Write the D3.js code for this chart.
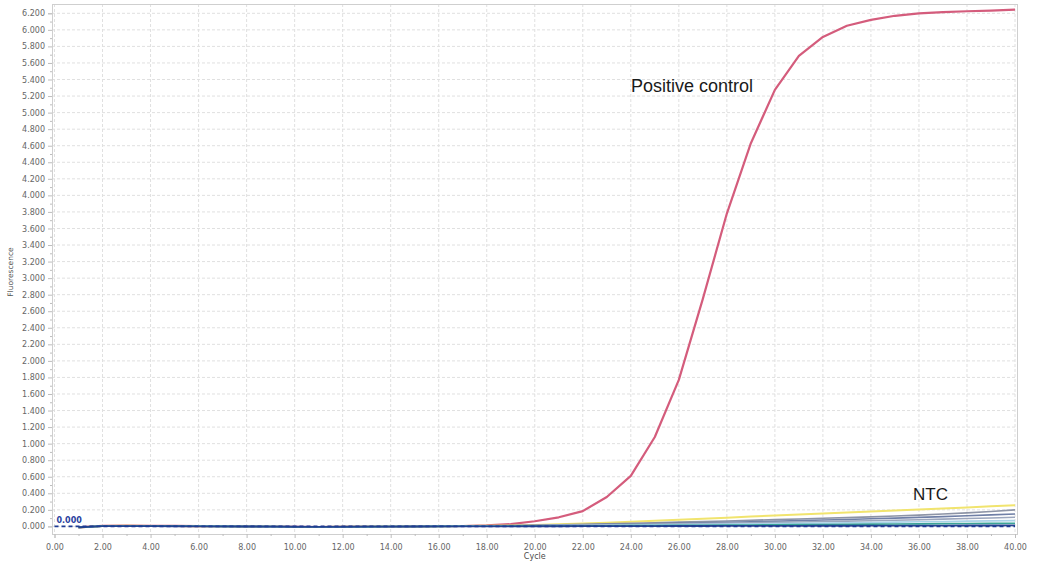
<!DOCTYPE html>
<html>
<head>
<meta charset="utf-8">
<title>Amplification plot</title>
<script src="https://cdn.jsdelivr.net/npm/d3@7"></script>
<style>
  html, body { margin: 0; padding: 0; background: #fff; }
  svg { display: block; }
</style>
</head>
<body>
<svg id="chart" width="1038" height="565"></svg>
<script>
// Amplification cycles (readings start at cycle 1)
const cycles = d3.range(1, 41);

// Fluorescence readings per well
const positiveControl = [-12, 8, 10, 8, 6, 4, 2, 0, -3, -6, -7, -5, -3, -1, 0, 2, 5, 12, 28, 62,
  110, 185, 355, 610, 1080, 1770, 2750, 3780, 4630, 5275, 5685, 5915, 6050, 6120, 6170, 6200, 6215, 6225, 6232, 6244];
const ntcYellow = [-14, 6, 8, 6, 5, 3, 1, 0, -3, -6, -7, -5, -3, -1, 0, 2, 4, 8, 12, 18,
  26, 34, 44, 55, 68, 81, 93, 106, 119, 131, 143, 155, 167, 179, 192, 204, 216, 229, 242, 255];
const ntcGrey = [-15, 6, 8, 6, 4, 2, 1, -1, -3, -6, -8, -6, -4, -2, -1, 1, 3, 6, 10, 14,
  19, 25, 31, 38, 45, 52, 59, 66, 74, 82, 90, 98, 106, 115, 125, 136, 149, 163, 180, 200];
const ntcSlate = [-13, 5, 7, 5, 4, 2, 0, -1, -3, -5, -7, -6, -4, -2, -1, 1, 2, 5, 8, 11,
  15, 19, 24, 29, 34, 39, 45, 51, 57, 63, 70, 77, 84, 92, 100, 109, 118, 128, 139, 150];
const ntcSteel = [-12, 4, 6, 5, 3, 2, 0, -1, -3, -5, -6, -5, -4, -2, -1, 0, 2, 4, 6, 9,
  12, 15, 19, 23, 27, 31, 35, 39, 44, 49, 54, 59, 64, 69, 75, 81, 88, 95, 102, 110];
const ntcSky = [-12, 4, 6, 4, 3, 1, 0, -1, -3, -5, -6, -5, -3, -2, -1, 0, 1, 3, 5, 7,
  9, 11, 13, 16, 19, 22, 25, 28, 31, 34, 37, 40, 44, 48, 52, 56, 60, 64, 67, 70];
const ntcTeal = [-11, 3, 5, 4, 3, 1, 0, -1, -2, -4, -5, -4, -3, -2, -1, 0, 1, 2, 3, 4,
  5, 6, 8, 9, 11, 12, 14, 15, 17, 19, 21, 23, 25, 27, 29, 31, 33, 35, 37, 38];
const ntcNavy = [-10, 3, 4, 3, 2, 1, 0, -1, -2, -4, -5, -4, -3, -2, -1, 0, 0, 1, 1, 2,
  2, 3, 3, 4, 4, 5, 5, 6, 6, 7, 7, 8, 8, 9, 9, 10, 10, 11, 11, 12];

// Threshold level
const threshold = 0;
const thresholdLabel = "0.000";

// Axis ticks
const xTicks = d3.range(0, 41, 2);
const xMinorTicks = d3.range(1, 40, 2);
const yTicks = d3.range(0, 6201, 200);
const yMinorTicks = d3.range(100, 6200, 200);

const svg = d3.select("#chart");

const frame = { left: 52, right: 1017, top: 4, bottom: 534 };
const x = d3.scaleLinear().domain([0, 40]).range([54.5, 1015]);
const y = d3.scaleLinear().domain([0, 6200]).range([526.4, 13.3]);

const fmtX = d3.format(".2f");
const fmtY = v => Math.floor(v / 1000) + "." + String(v % 1000).padStart(3, "0");

// grid
const grid = svg.append("g");
grid.selectAll("line.h").data(yTicks).join("line")
  .attr("x1", frame.left).attr("x2", frame.right)
  .attr("y1", d => y(d)).attr("y2", d => y(d))
  .attr("stroke", "#e0e0e0").attr("stroke-width", 1).attr("stroke-dasharray", "3,2");
grid.selectAll("line.v").data(xTicks).join("line")
  .attr("x1", d => x(d)).attr("x2", d => x(d))
  .attr("y1", frame.top).attr("y2", frame.bottom)
  .attr("stroke", "#e0e0e0").attr("stroke-width", 1).attr("stroke-dasharray", "3,2");

// frame
svg.append("rect")
  .attr("x", frame.left + 0.5).attr("y", frame.top + 0.5)
  .attr("width", frame.right - frame.left).attr("height", frame.bottom - frame.top)
  .attr("fill", "none").attr("stroke", "#cfcfcf");

// y axis
svg.append("g").attr("transform", `translate(${frame.left},0)`)
  .call(d3.axisLeft(y).tickValues(yTicks).tickFormat(fmtY).tickSize(4).tickPadding(3));
svg.append("g").attr("transform", `translate(${frame.left},0)`)
  .call(d3.axisLeft(y).tickValues(yMinorTicks).tickFormat("").tickSize(2))
  .call(g => g.select(".domain").remove());

// x axis
svg.append("g").attr("transform", `translate(0,${frame.bottom})`)
  .call(d3.axisBottom(x).tickValues(xTicks).tickFormat(fmtX).tickSize(4).tickPadding(6));
svg.append("g").attr("transform", `translate(0,${frame.bottom})`)
  .call(d3.axisBottom(x).tickValues(xMinorTicks).tickFormat("").tickSize(2))
  .call(g => g.select(".domain").remove());

svg.selectAll(".domain").attr("stroke", "#cfcfcf");
svg.selectAll(".tick line").attr("stroke", "#bdbdbd");
svg.selectAll(".tick text")
  .attr("font-family", "DejaVu Sans, Verdana, sans-serif")
  .attr("font-size", 8).attr("fill", "#666");

// axis titles
svg.append("text")
  .attr("x", x(20)).attr("y", 559)
  .attr("text-anchor", "middle")
  .attr("font-family", "DejaVu Sans, Verdana, sans-serif")
  .attr("font-size", 8).attr("fill", "#4a4a4a")
  .text("Cycle");
svg.append("text")
  .attr("transform", "translate(13,272) rotate(-90)")
  .attr("text-anchor", "middle")
  .attr("font-family", "DejaVu Sans, Verdana, sans-serif")
  .attr("font-size", 7.5).attr("fill", "#555")
  .text("Fluorescence");

// curves (positive control beneath the baseline cluster)
const line = d3.line().x((d, i) => x(cycles[i])).y(d => y(d));
const series = [
  { values: positiveControl, color: "#d45c7c", width: 2.2 },
  { values: ntcYellow, color: "#f1e46e", width: 2 },
  { values: ntcGrey,   color: "#8d94a6", width: 1.6 },
  { values: ntcSlate,  color: "#6f7fa6", width: 1.6 },
  { values: ntcSteel,  color: "#9ba6bd", width: 1.6 },
  { values: ntcSky,    color: "#a9d2e8", width: 1.6 },
  { values: ntcTeal,   color: "#3aa597", width: 1.6 },
  { values: ntcNavy,   color: "#27458f", width: 1.8 }
];
svg.append("g").selectAll("path").data(series).join("path")
  .attr("d", d => line(d.values))
  .attr("fill", "none")
  .attr("stroke", d => d.color)
  .attr("stroke-width", d => d.width)
  .attr("stroke-linejoin", "round");

// threshold line
svg.append("line")
  .attr("x1", x(0)).attr("x2", x(40))
  .attr("y1", y(threshold)).attr("y2", y(threshold))
  .attr("stroke", "#1f3a93").attr("stroke-width", 1.8)
  .attr("stroke-dasharray", "4,3");
svg.append("text")
  .attr("x", x(0) + 2).attr("y", y(threshold) - 3)
  .attr("font-family", "DejaVu Sans, Verdana, sans-serif")
  .attr("font-size", 8).attr("font-weight", "bold").attr("fill", "#2a3f9e")
  .text(thresholdLabel);

// annotations
svg.append("text")
  .attr("x", 631).attr("y", 92)
  .attr("font-family", "Liberation Sans, Arial, sans-serif")
  .attr("font-size", 18).attr("fill", "#1a1a1a")
  .text("Positive control");
svg.append("text")
  .attr("x", 913).attr("y", 500)
  .attr("font-family", "Liberation Sans, Arial, sans-serif")
  .attr("font-size", 17).attr("fill", "#1a1a1a")
  .text("NTC");
</script>
</body>
</html>
